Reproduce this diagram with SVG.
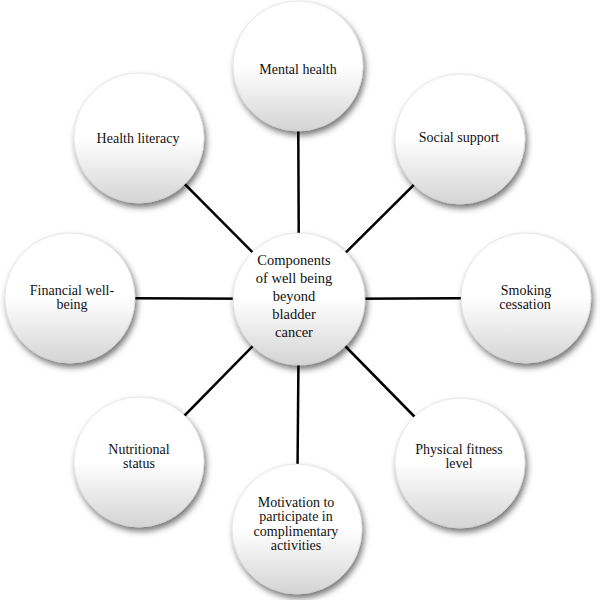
<svg xmlns="http://www.w3.org/2000/svg" width="600" height="600" viewBox="0 0 600 600">
<defs>
<linearGradient id="g" x1="0" y1="0" x2="0" y2="1">
<stop offset="0" stop-color="#ffffff"/>
<stop offset="0.5" stop-color="#ffffff"/>
<stop offset="1" stop-color="#d4d4d4"/>
</linearGradient>
<filter id="sh" x="-20%" y="-20%" width="150%" height="150%">
<feDropShadow dx="2" dy="4" stdDeviation="3" flood-color="#000" flood-opacity="0.55"/>
</filter>
<style>
.n{fill:url(#g);stroke:#d0d0d0;stroke-width:0.5;filter:url(#sh)}
text{font-family:'Liberation Serif','Times New Roman',serif;font-size:14px;fill:#111;text-anchor:middle}
.c{font-size:14.5px}
.e{stroke:#000;stroke-width:2.5}
</style>
</defs>
<rect width="600" height="600" fill="#fff"/>
<g id="connectors">
<line class="e" x1="299" y1="299" x2="298" y2="66"/>
<line class="e" x1="299" y1="299" x2="460" y2="139"/>
<line class="e" x1="299" y1="299" x2="526" y2="298"/>
<line class="e" x1="299" y1="299" x2="460" y2="463"/>
<line class="e" x1="299" y1="299" x2="297" y2="529"/>
<line class="e" x1="299" y1="299" x2="139" y2="462"/>
<line class="e" x1="299" y1="299" x2="70" y2="298"/>
<line class="e" x1="299" y1="299" x2="139" y2="138"/>
</g>
<g id="mental">
<circle class="n" cx="298" cy="66" r="65"/>
<text x="298" y="74">Mental health</text>
</g>
<g id="social">
<circle class="n" cx="460" cy="139" r="65"/>
<text x="459" y="142">Social support</text>
</g>
<g id="smoking">
<circle class="n" cx="526" cy="298" r="65"/>
<text x="526" y="295">Smoking</text>
<text x="525" y="309">cessation</text>
</g>
<g id="physical">
<circle class="n" cx="460" cy="463" r="65"/>
<text x="459" y="454">Physical fitness</text>
<text x="459" y="468">level</text>
</g>
<g id="motivation">
<circle class="n" cx="297" cy="529" r="65"/>
<text x="296" y="507">Motivation to</text>
<text x="296" y="521">participate in</text>
<text x="296" y="536">complimentary</text>
<text x="296" y="550">activities</text>
</g>
<g id="nutritional">
<circle class="n" cx="139" cy="462" r="65"/>
<text x="139" y="454">Nutritional</text>
<text x="139" y="468">status</text>
</g>
<g id="financial">
<circle class="n" cx="70" cy="298" r="65"/>
<text x="72" y="295">Financial well-</text>
<text x="72" y="309">being</text>
</g>
<g id="health">
<circle class="n" cx="139" cy="138" r="65"/>
<text x="138" y="143">Health literacy</text>
</g>
<g id="center">
<circle class="n" cx="299" cy="299" r="66"/>
<text class="c" x="294" y="265">Components</text>
<text class="c" x="294" y="283">of well being</text>
<text class="c" x="294" y="301">beyond</text>
<text class="c" x="294" y="319">bladder</text>
<text class="c" x="294" y="337">cancer</text>
</g>
</svg>
